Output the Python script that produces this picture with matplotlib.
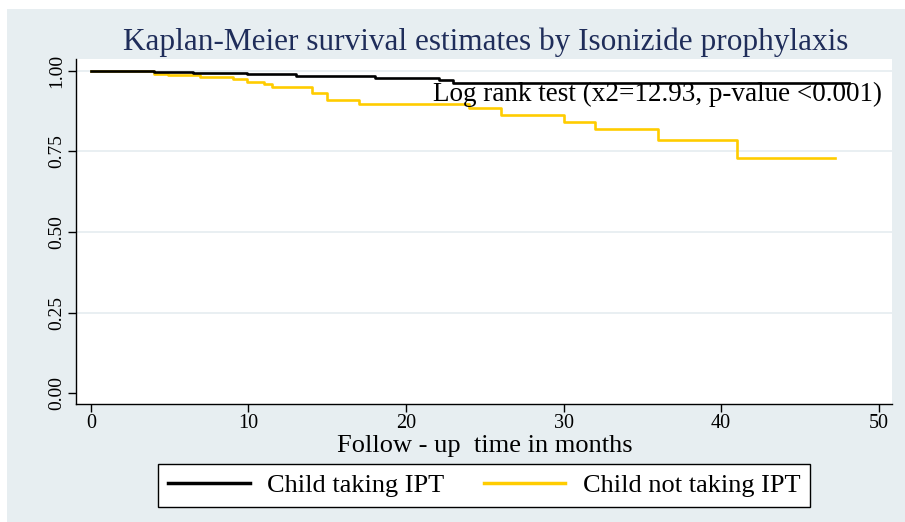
import matplotlib
matplotlib.use("Agg")
import matplotlib.pyplot as plt
from matplotlib.patches import Rectangle

# Data (Kaplan-Meier step functions)
ipt_times = [0, 4.0, 6.5, 9.9, 13.0, 18.0, 22.1, 23.0]
ipt_surv = [1.000, 0.997, 0.993, 0.988, 0.983, 0.976, 0.970, 0.962]
ipt_end = 48.1

noipt_times = [0, 4.0, 4.9, 6.9, 9.0, 9.9, 11.0, 11.5, 14.0, 15.0, 17.0, 24.0, 26.0, 30.0, 32.0, 36.0, 41.0]
noipt_surv = [1.000, 0.990, 0.986, 0.980, 0.973, 0.966, 0.960, 0.950, 0.932, 0.909, 0.896, 0.883, 0.863, 0.842, 0.819, 0.784, 0.728]
noipt_end = 47.2

x_ticks = [0, 10, 20, 30, 40, 50]
y_ticks = [0.00, 0.25, 0.50, 0.75, 1.00]
y_ticklabels = ["0.00", "0.25", "0.50", "0.75", "1.00"]

title = "Kaplan-Meier survival estimates by Isonizide prophylaxis"
xlabel = "Follow - up  time in months"
annotation = "Log rank test (x2=12.93, p-value <0.001)"
labels = ["Child taking IPT", "Child not taking IPT"]

BG = "#e7eef1"
BLACK = "#000000"
YELLOW = "#ffcc00"
SERIF = ["Liberation Serif", "DejaVu Serif"]

plt.rcParams["font.family"] = SERIF

fig = plt.figure(figsize=(9.05, 5.22), dpi=100)
fig.patch.set_facecolor("white")
fig.patches.append(Rectangle((7 / 905, 0), 1, (522 - 9) / 522, transform=fig.transFigure,
                             facecolor=BG, edgecolor="none", zorder=-10))

ax_l, ax_r, ax_b, ax_t = 76, 892, 404, 59
ax = fig.add_axes([ax_l / 905, (522 - ax_b) / 522, (ax_r - ax_l) / 905, (ax_b - ax_t) / 522])
ax.set_facecolor("white")

def steps(times, surv, end):
    xs = list(times) + [end]
    ys = list(surv) + [surv[-1]]
    return xs, ys

xs, ys = steps(ipt_times, ipt_surv, ipt_end)
ax.step(xs, ys, where="post", color=BLACK, lw=1.9, label=labels[0], zorder=4)
xs, ys = steps(noipt_times, noipt_surv, noipt_end)
ax.step(xs, ys, where="post", color=YELLOW, lw=1.9, label=labels[1], zorder=3)

ax.set_xlim(-0.95, 50.85)
ax.set_ylim(-0.033, 1.036)

ax.set_xticks(x_ticks)
ax.set_yticks(y_ticks)
ax.set_yticklabels(y_ticklabels, rotation=90, va="center")
ax.tick_params(axis="x", length=5.5, width=1, pad=2, labelsize=14.5, direction="out")
ax.tick_params(axis="y", length=6, width=1, pad=2, labelsize=14, direction="out")

for yv in y_ticks[1:]:
    ax.axhline(yv, color=BG, lw=1.3, zorder=1)

for s in ["top", "right"]:
    ax.spines[s].set_visible(False)
ax.spines["left"].set_linewidth(1.0)
ax.spines["bottom"].set_linewidth(1.0)

ax.set_xlabel(xlabel, fontsize=19)
ax.xaxis.label.set_verticalalignment("center")
ax.xaxis.set_label_coords((485 - ax_l) / (ax_r - ax_l), (ax_b - 446) / (ax_b - ax_t))

ax.text(21.7, 0.907, annotation, fontsize=19.5, va="baseline", ha="left", zorder=5)

fig.text(486 / 905, 1 - 42 / 522, title, ha="center", va="center", fontsize=22.5,
         color="#1f2d5a")

leg = fig.legend(loc="center", bbox_to_anchor=(484 / 905, 1 - 485.5 / 522), ncol=2,
                 frameon=True, fancybox=False, edgecolor="black", facecolor="white",
                 framealpha=1, fontsize=19, handlelength=3.1, handletextpad=0.65,
                 columnspacing=1.5, borderpad=0.38, borderaxespad=0)
leg.get_frame().set_linewidth(1.0)
for h in leg.get_lines():
    h.set_linewidth(2.5)

fig.savefig("out.png", dpi=100, facecolor=fig.get_facecolor())
